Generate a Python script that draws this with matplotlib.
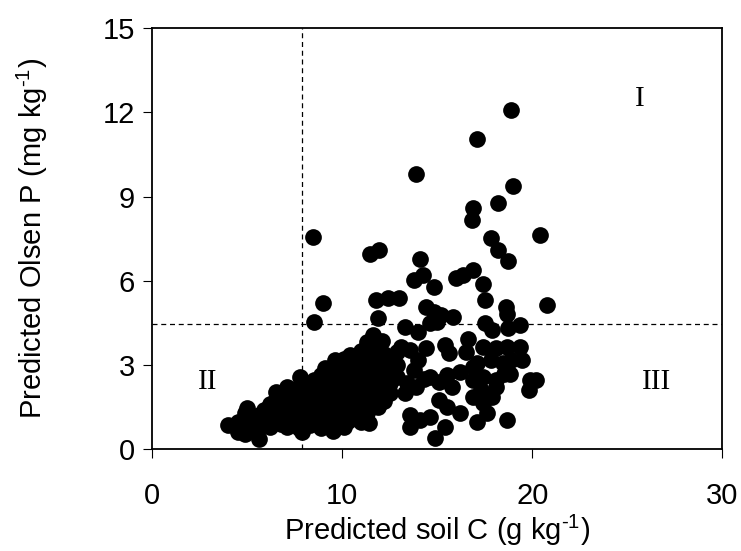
import matplotlib
matplotlib.use("Agg")
import matplotlib.pyplot as plt

# Dense main cloud (soil C, Olsen P)
cloud_c = [4.0, 4.5, 4.5, 4.9, 4.9, 4.9, 5.0, 5.3, 5.3, 5.6, 5.6, 5.6, 5.9, 5.9,
           6.2, 6.2, 6.2, 6.5, 6.5, 6.5, 6.5, 6.8, 6.8, 6.8, 6.8,
           7.1, 7.1, 7.1, 7.1, 7.1, 7.4, 7.4, 7.4, 7.4, 7.7, 7.7, 7.7, 7.7, 7.7,
           7.9, 7.8, 8.0, 8.0, 8.0, 8.0, 8.3, 8.3, 8.3, 8.3, 8.3, 8.5,
           8.6, 8.6, 8.6, 8.6, 8.9, 8.9, 8.9, 8.9, 8.9, 8.9, 9.1,
           9.2, 9.2, 9.2, 9.2, 9.2, 9.5, 9.5, 9.5, 9.5, 9.5, 9.5, 9.6,
           9.8, 9.8, 9.8, 9.8, 9.8, 9.8, 10.1, 10.1, 10.1, 10.1, 10.1, 10.1, 10.1,
           10.3, 10.4, 10.4, 10.4, 10.4, 10.4, 10.4, 10.7, 10.7, 10.7, 10.7, 10.7, 10.7,
           11.0, 11.0, 11.0, 11.0, 11.0, 11.0, 11.0, 11.3, 11.3, 11.3, 11.3, 11.3, 11.3, 11.3,
           11.4, 11.6, 11.6, 11.6, 11.6, 11.6, 11.6, 11.6, 11.9, 11.9, 11.9, 11.9, 11.9, 11.9,
           12.2, 12.2, 12.2, 12.2, 12.2, 12.1, 12.5, 12.5, 12.5, 12.5,
           12.86, 12.9, 12.9, 13.4, 9.6]
cloud_p = [0.85, 0.6, 0.95, 0.55, 0.9, 1.3, 1.45, 0.7, 1.05, 0.35, 0.8, 1.2, 0.95, 1.4,
           0.8, 1.15, 1.6, 1.0, 1.35, 1.8, 2.05, 0.9, 1.25, 1.6, 1.9,
           0.8, 1.1, 1.45, 1.8, 2.2, 1.0, 1.3, 1.65, 2.0, 0.75, 1.15, 1.5, 1.85, 2.2,
           0.6, 2.58, 1.0, 1.35, 1.7, 2.05, 0.85, 1.2, 1.55, 1.9, 2.3, 2.45,
           1.05, 1.4, 1.75, 2.1, 0.75, 1.25, 1.6, 1.95, 2.3, 2.65, 2.9,
           1.0, 1.45, 1.8, 2.15, 2.5, 0.65, 1.25, 1.65, 2.0, 2.35, 2.75, 3.17,
           1.05, 1.5, 1.85, 2.2, 2.6, 2.95, 0.8, 1.3, 1.7, 2.05, 2.45, 2.8, 3.2,
           1.0, 1.55, 1.9, 2.3, 2.65, 3.0, 3.35, 1.2, 1.75, 2.1, 2.5, 2.85, 3.2,
           0.95, 1.45, 1.95, 2.35, 2.7, 3.05, 3.5, 1.3, 1.8, 2.2, 2.6, 2.95, 3.35, 3.8,
           0.92, 1.6, 2.05, 2.45, 2.85, 3.2, 3.6, 4.05, 1.5, 1.9, 2.3, 2.7, 3.1, 3.5,
           1.7, 2.15, 2.55, 2.95, 3.4, 3.85, 2.0, 2.34, 2.8, 3.2,
           2.58, 3.0, 3.45, 2.34, 0.74]

# Scattered points
spread_c = [8.47, 8.98, 8.49, 11.46, 11.93, 13.9, 17.1, 18.9, 19.0, 18.2, 16.9, 16.8,
            20.4, 17.8, 18.2, 18.7, 14.09, 13.8, 14.26, 14.8, 15.98, 16.37, 16.9, 17.4,
            11.8, 12.4, 13.0, 11.9, 14.4, 14.8, 15.2, 15.8, 14.6, 14.97, 13.3, 14.0,
            17.5, 18.6, 18.65, 17.5, 17.9, 18.7, 19.35, 20.76,
            16.6, 16.5, 15.4, 15.6, 14.4, 13.1, 13.56, 14.0, 13.8,
            17.4, 18.1, 18.65, 19.35, 19.44, 18.9, 19.9, 19.8, 20.2,
            14.6, 15.5, 16.2, 15.76, 15.1, 16.9, 17.4, 18.1, 18.5, 18.8,
            16.9, 17.4, 17.9, 17.6, 17.07, 18.65, 15.1, 15.5, 16.2, 15.4, 14.9,
            13.56, 13.56, 14.1, 14.6, 13.3, 13.9, 14.3,
            18.45, 17.8, 17.07, 18.1, 17.3, 16.9]
spread_p = [7.56, 5.21, 4.54, 6.95, 7.11, 9.8, 11.07, 12.08, 9.38, 8.78, 8.6, 8.18,
            7.64, 7.52, 7.09, 6.7, 6.76, 6.02, 6.2, 5.78, 6.08, 6.2, 6.38, 5.9,
            5.31, 5.37, 5.37, 4.66, 5.07, 4.89, 4.77, 4.71, 4.48, 4.54, 4.36, 4.18,
            5.31, 5.07, 4.83, 4.48, 4.24, 4.3, 4.42, 5.13,
            3.94, 3.47, 3.7, 3.41, 3.59, 3.64, 3.53, 3.17, 2.81,
            3.64, 3.59, 3.64, 3.64, 3.17, 3.17, 2.46, 2.1, 2.46,
            2.58, 2.64, 2.75, 2.22, 2.4, 2.46, 2.58, 2.46, 2.68, 2.68,
            1.86, 1.63, 1.86, 1.27, 0.97, 1.03, 1.75, 1.51, 1.27, 0.79, 0.38,
            1.21, 0.79, 1.03, 1.15, 2.0, 2.2, 2.5,
            3.06, 3.17, 3.06, 2.22, 2.1, 2.93]

c_threshold = 7.9
p_threshold = 4.44

x_ticks = [0, 10, 20, 30]
y_ticks = [0, 3, 6, 9, 12, 15]

quadrants = [("I", 25.66, 12.47), ("II", 2.94, 2.39), ("III", 26.55, 2.39)]

plt.rcParams['font.family'] = ['Liberation Sans', 'DejaVu Sans']
plt.rcParams['mathtext.fontset'] = 'custom'
plt.rcParams['mathtext.rm'] = 'Liberation Sans'
plt.rcParams['mathtext.it'] = 'Liberation Sans'

fig = plt.figure(figsize=(7.41, 5.51), dpi=100)
ax = fig.add_axes([0.2055, 0.1851, 0.7693, 0.7635])

ax.scatter(cloud_c + spread_c, cloud_p + spread_p, s=145, c='black',
           linewidths=0, zorder=3)

ax.axvline(c_threshold, color='black', lw=0.9, ls=(0, (4, 3)), zorder=2)
ax.axhline(p_threshold, color='black', lw=0.9, ls=(0, (4, 3)), zorder=2)

for label, xq, yq in quadrants:
    ax.text(xq, yq, label, family='Liberation Serif', fontsize=21,
            ha='center', va='center')

ax.set_xlim(0, 30)
ax.set_ylim(0, 15)
ax.set_xticks(x_ticks)
ax.set_yticks(y_ticks)
ax.tick_params(direction='out', length=6.5, width=0.8, labelsize=21,
               top=False, right=False)
ax.tick_params(axis='x', pad=17)
ax.tick_params(axis='y', pad=6)
for sp in ax.spines.values():
    sp.set_linewidth(1.3)

ax.set_xlabel(r'Predicted soil C (g kg$^{\text{-}1}$)', fontsize=21, labelpad=2)
ax.set_ylabel(r'Predicted Olsen P (mg kg$^{\text{-}1}$)', fontsize=21)
ax.yaxis.set_label_coords(-0.18, 0.5)

fig.savefig('out.png', dpi=100)
